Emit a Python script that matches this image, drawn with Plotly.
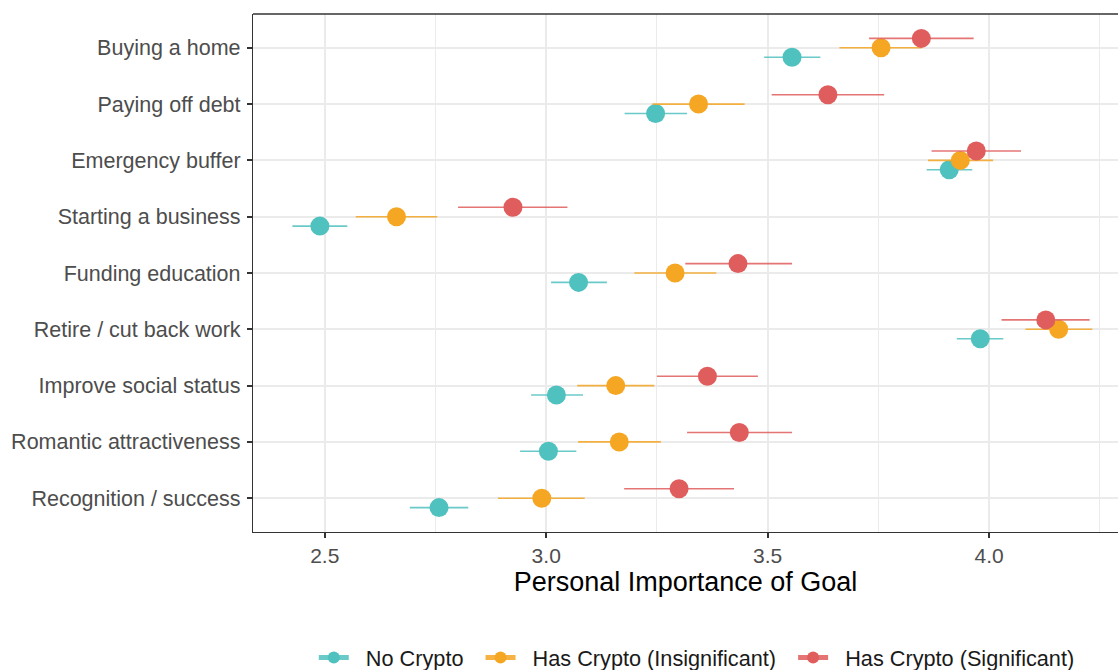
import plotly.graph_objects as go
import numpy as np

categories = ["Buying a home", "Paying off debt", "Emergency buffer", "Starting a business",
              "Funding education", "Retire / cut back work", "Improve social status",
              "Romantic attractiveness", "Recognition / success"]
groups = ["No Crypto", "Has Crypto (Insignificant)", "Has Crypto (Significant)"]

no_crypto_mean = [3.555, 3.247, 3.910, 2.489, 3.073, 3.980, 3.023, 3.005, 2.758]
no_crypto_lo = [3.492, 3.177, 3.859, 2.427, 3.011, 3.927, 2.966, 2.941, 2.692]
no_crypto_hi = [3.619, 3.318, 3.962, 2.551, 3.137, 4.032, 3.083, 3.068, 2.824]

insig_mean = [3.756, 3.344, 3.935, 2.662, 3.291, 4.157, 3.157, 3.165, 2.990]
insig_lo = [3.662, 3.240, 3.862, 2.570, 3.199, 4.082, 3.070, 3.072, 2.891]
insig_hi = [3.848, 3.448, 4.009, 2.754, 3.384, 4.233, 3.244, 3.259, 3.087]

sig_mean = [3.847, 3.636, 3.971, 2.925, 3.433, 4.128, 3.364, 3.436, 3.300]
sig_lo = [3.729, 3.509, 3.870, 2.801, 3.314, 4.028, 3.250, 3.318, 3.176]
sig_hi = [3.965, 3.763, 4.072, 3.048, 3.555, 4.227, 3.478, 3.555, 3.424]

x_ticks = [2.5, 3.0, 3.5, 4.0]
x_tick_labels = ["2.5", "3.0", "3.5", "4.0"]

colors = ["#4FC1BF", "#F5A623", "#E05D5D"]
bar_colors = ["rgba(79,193,191,0.85)", "rgba(245,166,35,0.85)", "rgba(224,93,93,0.85)"]
dodge = [0.167, 0.0, -0.167]

series = [
    (no_crypto_mean, no_crypto_lo, no_crypto_hi),
    (insig_mean, insig_lo, insig_hi),
    (sig_mean, sig_lo, sig_hi),
]

pos = np.arange(len(categories))
fig = go.Figure()

for g, (name, (m, lo, hi)) in enumerate(zip(groups, series)):
    m = np.array(m); lo = np.array(lo); hi = np.array(hi)
    fig.add_trace(go.Scatter(
        x=m, y=pos + dodge[g], mode="markers", name=name,
        marker=dict(size=19, color=colors[g], line=dict(width=0)),
        error_x=dict(type="data", symmetric=False, array=hi - m, arrayminus=m - lo,
                     color=bar_colors[g], thickness=1.6, width=0),
        showlegend=False, hoverinfo="skip",
    ))

# legend entries (point-range keys)
for g, name in enumerate(groups):
    fig.add_trace(go.Scatter(
        x=[None], y=[None], mode="lines+markers",
        name="\u00a0\u00a0" + name + "\u00a0\u00a0",
        marker=dict(size=19, color=colors[g]),
        line=dict(color=bar_colors[g], width=1.2),
        showlegend=True,
    ))

fig.update_layout(
    width=1118, height=670,
    margin=dict(l=253, r=0, t=14, b=138, autoexpand=False),
    paper_bgcolor="white", plot_bgcolor="white",
    font=dict(family="Liberation Sans, Arial, sans-serif", color="#4D4D4D"),
    showlegend=True,
    legend=dict(orientation="h", x=0.52, xanchor="center", y=-0.243, yanchor="middle",
                font=dict(size=21.7, color="#1A1A1A"), itemsizing="constant",
                bgcolor="rgba(0,0,0,0)"),
    xaxis=dict(
        range=[2.338, 4.291], tickvals=x_ticks, ticktext=x_tick_labels,
        showgrid=True, gridcolor="#EBEBEB", gridwidth=2,
        minor=dict(dtick=0.25, tick0=0, showgrid=True, gridcolor="#EBEBEB", gridwidth=1),
        zeroline=False, showline=True, linecolor="#333333", linewidth=1.3, mirror=False,
        ticks="outside", ticklen=5, tickwidth=1.5, tickcolor="#333333",
        tickfont=dict(size=21, color="#4D4D4D"), ticklabelstandoff=0,
        title=dict(text="Personal Importance of Goal", font=dict(size=27, color="#000000"), standoff=2),
    ),
    yaxis=dict(
        range=[len(categories) - 1 + 0.6, -0.6], tickvals=pos, ticktext=categories,
        showgrid=True, gridcolor="#EBEBEB", gridwidth=2,
        zeroline=False, showline=True, linecolor="#333333", linewidth=1.3, mirror=False,
        ticks="outside", ticklen=5, tickwidth=1.5, tickcolor="#333333",
        tickfont=dict(size=21.5, color="#4D4D4D"), ticklabelstandoff=2,
    ),
    shapes=[dict(type="line", xref="paper", yref="paper", x0=0, x1=1, y0=1, y1=1,
                 line=dict(color="#333333", width=1.3))],
)

fig.write_html("out.html")
